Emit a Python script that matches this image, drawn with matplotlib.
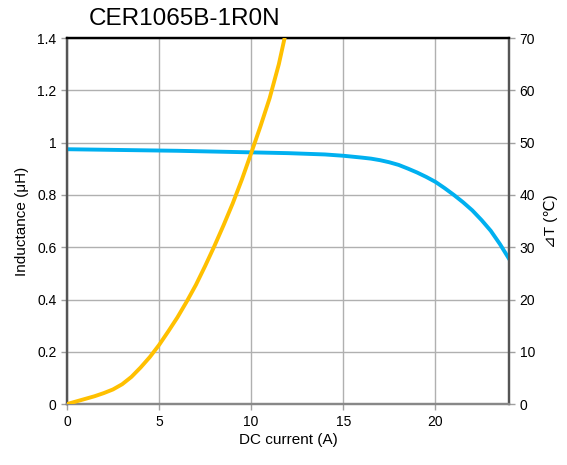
import numpy as np
import matplotlib.pyplot as plt

plt.rcParams['font.family'] = ['Liberation Sans', 'DejaVu Sans']

# DC current (A) vs inductance (uH)
cur_l = [0, 2, 4, 6, 8, 10, 12, 14, 15, 16, 16.5, 17, 17.5, 18, 18.5, 19, 19.5, 20,
         20.5, 21, 21.5, 22, 22.5, 23, 23.5, 24]
ind = [0.975, 0.973, 0.971, 0.969, 0.966, 0.963, 0.960, 0.955, 0.950, 0.943, 0.939,
       0.933, 0.925, 0.915, 0.901, 0.886, 0.869, 0.850, 0.826, 0.800, 0.772, 0.741,
       0.704, 0.663, 0.612, 0.555]

# DC current (A) vs temperature rise (degC)
cur_t = [0, 0.5, 1, 1.5, 2, 2.5, 3, 3.5, 4, 4.5, 5, 5.5, 6, 6.5, 7, 7.5, 8, 8.5,
         9, 9.5, 10, 10.5, 11, 11.5, 12]
temp = [0, 0.5, 1.0, 1.5, 2.1, 2.8, 3.8, 5.2, 7.0, 9.0, 11.3, 13.9, 16.6, 19.6,
        22.8, 26.4, 30.2, 34.2, 38.4, 43.0, 48.0, 53.1, 58.5, 65.0, 73.0]

fig = plt.figure(figsize=(5.67, 4.65), dpi=100)
ax = fig.add_axes([0.118, 0.131, 0.780, 0.787])
ax2 = ax.twinx()

ax.plot(cur_l, ind, color='#00B0F0', lw=2.8, solid_joinstyle='round', zorder=3)
ax2.plot(cur_t, temp, color='#FFC000', lw=2.8, solid_joinstyle='round', zorder=3)

ax.set_xlim(0, 24)
ax.set_ylim(0, 1.4)
ax2.set_ylim(0, 70)
ax.set_xticks([0, 5, 10, 15, 20])
ax.set_yticks(np.arange(0, 1.41, 0.2))
ax.set_yticklabels(['0', '0.2', '0.4', '0.6', '0.8', '1', '1.2', '1.4'])
ax2.set_yticks(np.arange(0, 71, 10))

ax.grid(True, color='#b0b0b0', lw=1.0)
ax.set_axisbelow(True)

for a in (ax, ax2):
    a.tick_params(labelsize=10, length=4, width=1, color='#a0a0a0', direction='out')
    for s in a.spines.values():
        s.set_linewidth(1.6)
    a.spines['top'].set_color('black')
    a.spines['left'].set_color('#555555')
    a.spines['right'].set_color('#555555')
    a.spines['bottom'].set_color('#888888')

ax.set_xlabel('DC current (A)', fontsize=11, labelpad=3)
ax.set_ylabel('Inductance (μH)', fontsize=11, labelpad=6)
ax2.set_ylabel('⊿T (℃)', fontsize=11, labelpad=6)

fig.text(0.326, 0.96, 'CER1065B-1R0N', ha='center', va='center', fontsize=17.5)

fig.savefig('out.png', dpi=100)
